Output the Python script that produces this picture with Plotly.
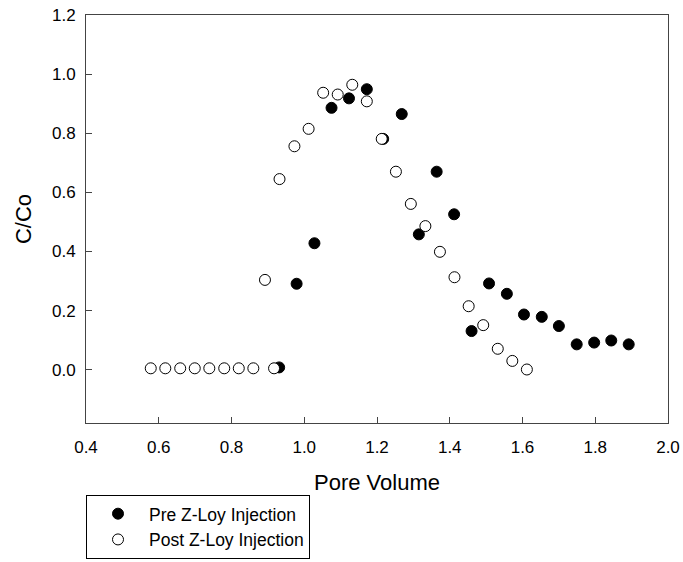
import plotly.graph_objects as go

# Pre Z-Loy Injection (filled circles)
pre_x = [0.931, 0.979, 1.028, 1.075, 1.123, 1.172, 1.217, 1.268, 1.315, 1.364, 1.412,
         1.460, 1.508, 1.557, 1.604, 1.653, 1.700, 1.749, 1.797, 1.844, 1.892]
pre_y = [0.008, 0.291, 0.428, 0.886, 0.918, 0.949, 0.781, 0.865, 0.458, 0.670, 0.526,
         0.131, 0.292, 0.257, 0.187, 0.179, 0.148, 0.086, 0.092, 0.099, 0.086]

# Post Z-Loy Injection (open circles)
post_x = [0.578, 0.618, 0.659, 0.699, 0.739, 0.780, 0.820, 0.860, 0.892, 0.917, 0.932,
          0.973, 1.012, 1.052, 1.092, 1.132, 1.172, 1.213, 1.252, 1.293, 1.333, 1.373,
          1.413, 1.452, 1.492, 1.532, 1.572, 1.612]
post_y = [0.005, 0.005, 0.005, 0.005, 0.005, 0.005, 0.005, 0.005, 0.304, 0.005, 0.645,
          0.756, 0.815, 0.937, 0.931, 0.964, 0.908, 0.781, 0.670, 0.561, 0.486, 0.399,
          0.313, 0.215, 0.151, 0.071, 0.030, 0.001]

x_ticks = [0.4, 0.6, 0.8, 1.0, 1.2, 1.4, 1.6, 1.8, 2.0]
y_ticks = [0.0, 0.2, 0.4, 0.6, 0.8, 1.0, 1.2]

FONT = "Liberation Sans, Arial, sans-serif"

fig = go.Figure()
fig.add_trace(go.Scatter(
    x=pre_x, y=pre_y, mode="markers", name="Pre Z-Loy Injection",
    marker=dict(symbol="circle", size=11, color="black", line=dict(color="black", width=1)),
))
fig.add_trace(go.Scatter(
    x=post_x, y=post_y, mode="markers", name="Post Z-Loy Injection",
    marker=dict(symbol="circle", size=11, color="white", line=dict(color="black", width=1)),
))

axis_common = dict(
    showline=True, linecolor="#444444", linewidth=1, mirror=True,
    ticks="inside", ticklen=6, tickcolor="#444444", tickwidth=1,
    showgrid=False, zeroline=False, tickformat=".1f", automargin=False,
    tickfont=dict(family=FONT, size=17, color="black"),
)

fig.update_layout(
    width=683, height=562,
    margin=dict(l=86, r=15, t=15, b=139, autoexpand=False),
    paper_bgcolor="white", plot_bgcolor="white",
    font=dict(family=FONT, color="black"),
    xaxis=dict(range=[0.4, 2.0], tickvals=x_ticks,
               title=dict(text="Pore Volume", font=dict(family=FONT, size=22), standoff=18),
               ticklabelstandoff=9, **axis_common),
    yaxis=dict(range=[-0.18, 1.2], tickvals=y_ticks,
               title=dict(text="C/Co", font=dict(family=FONT, size=22), standoff=14),
               ticklabelstandoff=6, **axis_common),
    showlegend=True,
    legend=dict(x=0, xanchor="left", y=-0.176, yanchor="top",
                bordercolor="black", borderwidth=1, bgcolor="white",
                font=dict(family=FONT, size=17.5, color="black"),
                indentation=0, itemwidth=52, tracegroupgap=0),
)

fig.write_html("out.html")
